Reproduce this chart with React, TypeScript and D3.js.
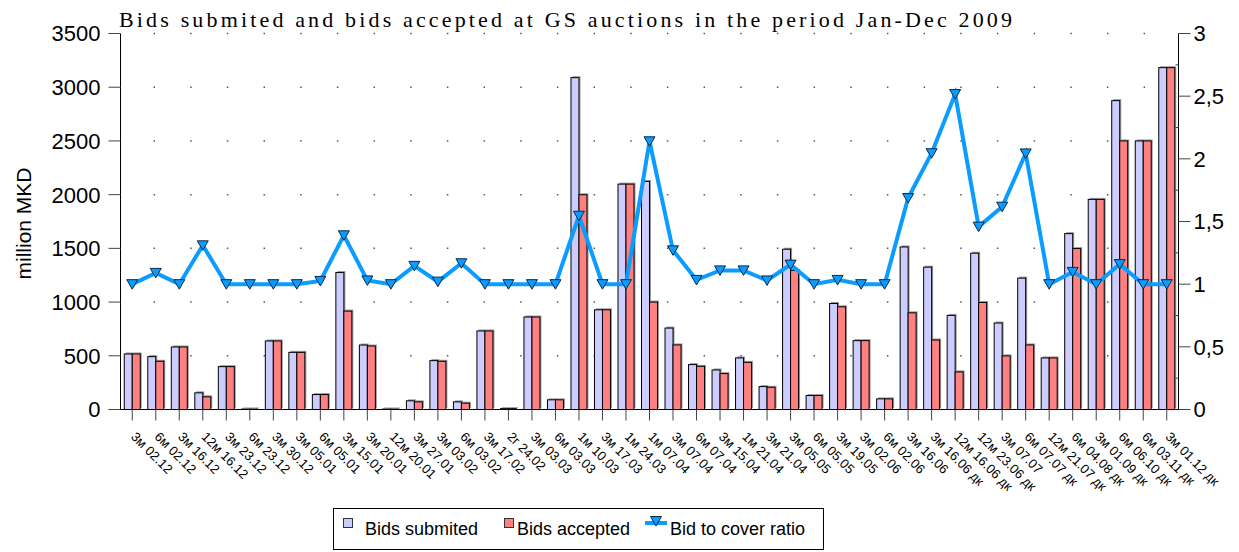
import React from "react";
import * as d3 from "d3";

const categories = [
  "3м 02.12", "6м 02.12", "3м 16.12", "12м 16.12", "3м 23.12", "6м 23.12", "3м 30.12",
  "3м 05.01", "6м 05.01", "3м 15.01", "3м 20.01", "12м 20.01", "3м 27.01", "3м 03.02",
  "6м 03.02", "3м 17.02", "2г 24.02", "3м 03.03", "6м 03.03", "1м 10.03", "3м 17.03",
  "1м 24.03", "1м 07.04", "3м 07.04", "6м 07.04", "3м 15.04", "1м 21.04", "3м 21.04",
  "3м 05.05", "6м 05.05", "3м 19.05", "3м 02.06", "6м 02.06", "3м 16.06", "3м 16.06 дк",
  "12м 16.06 дк", "12м 23.06 дк", "3м 07.07", "6м 07.07 дк", "12м 21.07 дк", "6м 04.08 дк",
  "3м 01.09 дк", "6м 06.10 дк", "6м 03.11 дк", "3м 01.12 дк",
];

const bidsSubmitted = [
  517, 492, 582, 155, 399, 5, 638, 532, 139, 1275, 600, 5, 81, 455, 71, 731, 8, 861, 90,
  3089, 928, 2098, 2123, 758, 418, 368, 480, 213, 1492, 130, 987, 641, 99, 1513, 1325, 876,
  1455, 805, 1223, 480, 1637, 1956, 2875, 2500, 3182,
];

const bidsAccepted = [
  517, 449, 582, 118, 399, 5, 638, 532, 139, 916, 591, 5, 71, 449, 59, 731, 8, 861, 90,
  1999, 928, 2098, 1000, 601, 402, 334, 439, 207, 1295, 130, 956, 641, 99, 900, 647, 350,
  996, 499, 601, 480, 1498, 1956, 2500, 2500, 3182,
];

const bidToCover = [
  1.0, 1.09, 1.0, 1.31, 1.0, 1.0, 1.0, 1.0, 1.026, 1.39, 1.03, 1.0, 1.146, 1.02, 1.167, 1.0,
  1.0, 1.0, 1.0, 1.546, 1.0, 1.0, 2.14, 1.27, 1.034, 1.11, 1.11, 1.03, 1.156, 1.0, 1.034,
  1.0, 1.0, 1.687, 2.045, 2.517, 1.459, 1.618, 2.043, 1.0, 1.098, 1.0, 1.16, 1.0, 1.0,
];

const leftTicks = [0, 500, 1000, 1500, 2000, 2500, 3000, 3500];
const rightTicks = [0, 0.5, 1, 1.5, 2, 2.5, 3];
const rightTickLabels = ["0", "0,5", "1", "1,5", "2", "2,5", "3"];

const W = 1239;
const H = 552;
const PL = 120.5;
const PR = 1178.5;
const PT = 33.5;
const PB = 409.5;

const SANS = "'Liberation Sans', Arial, sans-serif";
const SERIF = "'Liberation Serif', 'Times New Roman', serif";
const BLUE = "#ccccff";
const RED = "#ff8080";
const LINE = "#0a9cff";

export default function App() {
  const x = d3.scaleBand<string>().domain(categories).range([PL, PR]).padding(0);
  const yL = d3.scaleLinear().domain([0, 3500]).range([PB, PT]);
  const yR = d3.scaleLinear().domain([0, 3]).range([PB, PT]);
  const bw = x.bandwidth() * 0.34;
  const cx = (c: string) => (x(c) as number) + x.bandwidth() / 2;

  const linePath = d3
    .line<number>()
    .x((_, i) => cx(categories[i]))
    .y((d) => yR(d))(bidToCover) as string;

  const tri = "M-5.5,-4.5L5.5,-4.5L0,5Z";
  const period = 36.67;
  const firstDot = 33;

  const minorRight = d3.range(0.25, 3, 0.5);

  return (
    <svg
      width={W}
      height={H}
      style={{ position: "absolute", left: 0, top: 0, background: "#fff" }}
    >
      <rect x={0} y={0} width={W} height={H} fill="#fff" />
      {/* title */}
      <text
        x={119}
        y={27}
        fontFamily={SERIF}
        fontSize={22}
        textLength={893}
        lengthAdjust="spacing"
        fill="#000"
      >
        Bids submited and bids accepted at GS auctions in the period Jan-Dec 2009
      </text>

      {/* dotted grid */}
      {leftTicks.slice(1).map((t) => (
        <line
          key={"g" + t}
          x1={PL}
          x2={PR}
          y1={yL(t)}
          y2={yL(t)}
          stroke="#555"
          strokeWidth={1.5}
          strokeDasharray={`1.5 ${period - 1.5}`}
          strokeDashoffset={period - firstDot}
        />
      ))}

      {/* bars */}
      {categories.map((c, i) => {
        const xc = cx(c);
        const ys = yL(bidsSubmitted[i]);
        const ya = yL(bidsAccepted[i]);
        return (
          <g key={"b" + i}>
            <rect x={xc - bw + 1.5} y={ys - 1.5} width={bw} height={PB - ys} fill="#9a9a9a" />
            <rect x={xc + 1.5} y={ya - 1.5} width={bw} height={PB - ya} fill="#9a9a9a" />
            <rect
              x={xc - bw}
              y={ys}
              width={bw}
              height={PB - ys}
              fill={BLUE}
              stroke="#000"
              strokeWidth={1}
            />
            <rect
              x={xc}
              y={ya}
              width={bw}
              height={PB - ya}
              fill={RED}
              stroke="#000"
              strokeWidth={1}
            />
          </g>
        );
      })}

      {/* line */}
      <path d={linePath} fill="none" stroke={LINE} strokeWidth={4} strokeLinejoin="miter" />
      {bidToCover.map((v, i) => (
        <path
          key={"m" + i}
          d={tri}
          transform={`translate(${cx(categories[i])},${yR(v)})`}
          fill={LINE}
          stroke="#0b2a4a"
          strokeWidth={1}
        />
      ))}

      {/* left axis */}
      <line x1={PL} x2={PL} y1={PT} y2={PB} stroke="#000" strokeWidth={1} />
      {leftTicks.map((t) => (
        <g key={"l" + t}>
          <line x1={PL - 12} x2={PL} y1={yL(t)} y2={yL(t)} stroke="#444" />
          <text
            x={PL - 20}
            y={yL(t)}
            dy="0.36em"
            textAnchor="end"
            fontFamily={SANS}
            fontSize={22}
            fill="#000"
          >
            {t}
          </text>
        </g>
      ))}
      <text
        transform={`translate(31,${(PT + PB) / 2 + 2}) rotate(-90)`}
        textAnchor="middle"
        fontFamily={SANS}
        fontSize={21}
        fill="#000"
      >
        million MKD
      </text>

      {/* right axis */}
      <line x1={PR} x2={PR} y1={PT} y2={PB} stroke="#000" strokeWidth={1} />
      {rightTicks.map((t, i) => (
        <g key={"r" + t}>
          <line x1={PR} x2={PR + 12} y1={yR(t)} y2={yR(t)} stroke="#444" />
          <text
            x={PR + 15}
            y={yR(t)}
            dy="0.36em"
            textAnchor="start"
            fontFamily={SANS}
            fontSize={22}
            fill="#000"
          >
            {rightTickLabels[i]}
          </text>
        </g>
      ))}
      {minorRight.map((t) => (
        <line key={"mr" + t} x1={PR - 3} x2={PR} y1={yR(t)} y2={yR(t)} stroke="#444" />
      ))}

      {/* x axis */}
      <line x1={PL} x2={PR} y1={PB} y2={PB} stroke="#000" strokeWidth={1} />
      {categories.map((c) => (
        <g key={"x" + c}>
          <line x1={cx(c)} x2={cx(c)} y1={PB} y2={PB + 11} stroke="#444" />
          <text
            transform={`translate(${cx(c) - 2},${PB + 28}) rotate(45)`}
            fontFamily={SANS}
            fontSize={13}
            fill="#000"
          >
            {c}
          </text>
        </g>
      ))}

      {/* legend */}
      <rect x={333.5} y={508.5} width={490} height={41} fill="#fff" stroke="#000" strokeWidth={1} />
      <rect x={343.5} y={518.5} width={9} height={9} fill={BLUE} stroke="#333" />
      <text x={365} y={535} fontFamily={SANS} fontSize={18} fill="#000">
        Bids submited
      </text>
      <rect x={504.5} y={518.5} width={9} height={9} fill={RED} stroke="#333" />
      <text x={517} y={535} fontFamily={SANS} fontSize={18} fill="#000">
        Bids accepted
      </text>
      <line x1={645} x2={667} y1={523} y2={523} stroke={LINE} strokeWidth={4} />
      <path d={tri} transform="translate(656,521)" fill={LINE} stroke="#0b2a4a" strokeWidth={1} />
      <text x={670} y={535} fontFamily={SANS} fontSize={18} fill="#000">
        Bid to cover ratio
      </text>
    </svg>
  );
}
